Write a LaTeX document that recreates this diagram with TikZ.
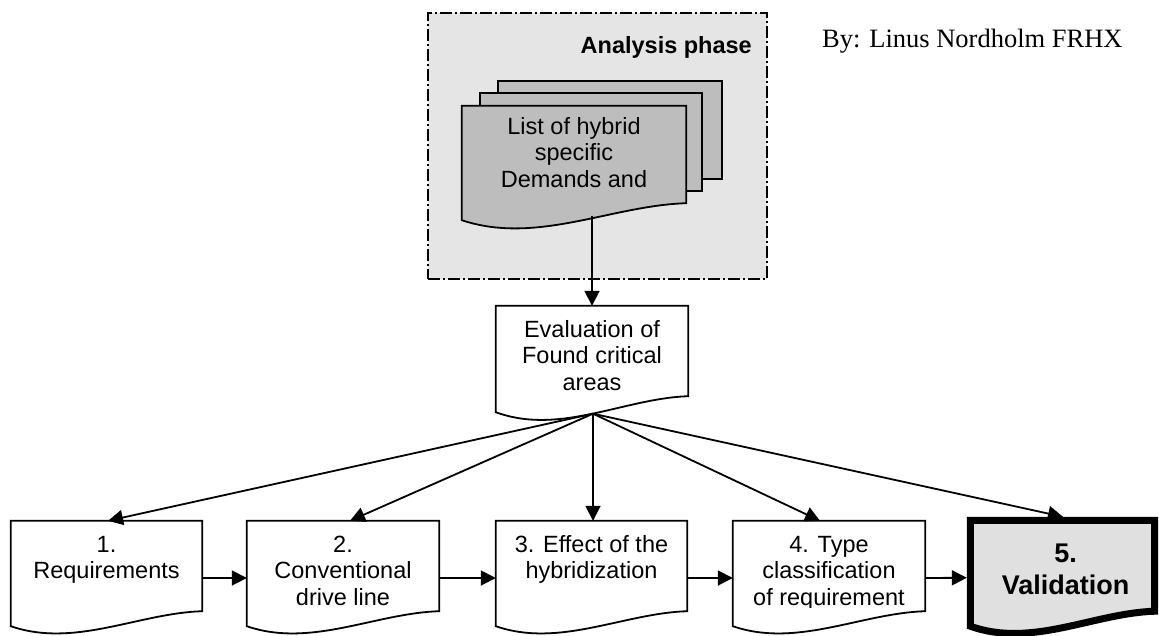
\documentclass[tikz,border=0pt]{standalone}
\usepackage{fontspec}
\setmainfont{Liberation Sans}
\newfontfamily\bylinefont{Liberation Serif}
\usetikzlibrary{arrows.meta,calc}

\definecolor{phasefill}{gray}{0.90}
\definecolor{docfill}{gray}{0.74}
\definecolor{valfill}{gray}{0.88}

% outline of a flowchart "document" shape built on a placeholder node #1;
% the wavy bottom edge ends #2 higher on the right than on the left
\newcommand{\docpath}[2]{%
  (#1.north west) -- (#1.north east) -- ($(#1.south east)+(0,-#2)$)
  .. controls ($(#1.south west)!0.667!(#1.south east)+(0,{-0.867*#2})$)
  and ($(#1.south west)!0.333!(#1.south east)+(0,{1.467*#2})$) .. (#1.south west) -- cycle}

% centred lines whose anchor is the baseline of the first line
\newcommand{\linesof}[1]{\begin{tabular}[t]{@{}c@{}}#1\end{tabular}}

\tikzset{
  area/.style={rectangle, draw=none, inner sep=0pt},
  docline/.style={draw=black, line width=1.8pt, line join=miter},
  label/.style={inner sep=0pt, anchor=base,
    font=\fontsize{23.5}{26.5}\selectfont},
  biglabel/.style={inner sep=0pt, anchor=base,
    font=\fontsize{27}{32}\selectfont\bfseries},
  conn/.style={line width=1.8pt, -{Triangle[length=15pt,width=15pt]}},
}

\begin{document}
\begin{tikzpicture}[x=1pt,y=-1pt]
\useasboundingbox (0,0) rectangle (1159,635);

% analysis phase frame
\node[area, draw=black, fill=phasefill, line width=1.8pt,
      dash pattern=on 12pt off 3pt on 2pt off 3pt,
      minimum width=339pt, minimum height=266pt] (phase) at (597.5,146) {};
\node[inner sep=0pt, anchor=base east, font=\fontsize{23.5}{26.5}\selectfont\bfseries]
  (phasetitle) at (752,53.3) {Analysis phase};

% stacked pages of the list
\node[area, draw=black, fill=docfill, line width=1.8pt,
      minimum width=224pt, minimum height=98pt] (backdoc) at (610,130) {};
\node[area, draw=black, fill=docfill, line width=1.8pt,
      minimum width=222pt, minimum height=98pt] (middoc) at (591,142) {};
\node[area, minimum width=224pt, minimum height=114pt] (fd) at (574,163) {};
\path[docline, fill=docfill] \docpath{fd}{17};
\node[label] (fdtext) at ($(fd.north)+(0,28.5)$)
  {\linesof{List of hybrid\\ specific\\ Demands and}};

% evaluation step
\node[area, minimum width=192pt, minimum height=106pt] (ev) at (592,359) {};
\path[docline, fill=white] \docpath{ev}{16};
\node[label] (evtext) at ($(ev.north)+(0,31.5)$)
  {\linesof{Evaluation of\\ Found critical\\ areas}};
\coordinate (evb) at ($(ev.south)+(1,1.5)$);

% the five steps
\node[area, minimum width=191pt, minimum height=105pt] (b1) at (106.5,573.5) {};
\node[area, minimum width=192pt, minimum height=105pt] (b2) at (343,573.5) {};
\node[area, minimum width=191pt, minimum height=105pt] (b3) at (591.5,573.5) {};
\node[area, minimum width=192pt, minimum height=105pt] (b4) at (829,573.5) {};
\node[area, minimum width=184pt, minimum height=105.5pt] (b5) at (1062.5,573.25) {};

\path[docline, fill=white] \docpath{b1}{15};
\path[docline, fill=white] \docpath{b2}{15};
\path[docline, fill=white] \docpath{b3}{15};
\path[docline, fill=white] \docpath{b4}{15};
\path[docline, fill=valfill, line width=7pt] \docpath{b5}{15};

\node[label] (t1) at ($(b1.north)+(0,31.5)$) {\linesof{1.\\ Requirements}};
\node[label] (t2) at ($(b2.north)+(0,31.5)$) {\linesof{2.\\ Conventional\\ drive line}};
\node[label] (t3) at ($(b3.north)+(0,31.5)$) {\linesof{3. Effect of the\\ hybridization}};
\begin{scope}
  \clip ($(b4.north west)+(2,2)$) rectangle ($(b4.south east)+(-2,-19)$);
  \node[label] (t4) at ($(b4.north)+(0,31.5)$) {\linesof{4. Type\\ classification\\ of requirement}};
\end{scope}
\node[biglabel] (t5) at ($(b5.north)+(3,42)$) {\linesof{5.\\ Validation}};

% author
\node[inner sep=0pt, anchor=base west, font=\bylinefont\fontsize{26.5}{30}\selectfont]
  (byline) at (822,47) {By: Linus Nordholm FRHX};

% connectors
\draw[conn] ($(ev.north |- fd.south)+(0,-4)$) -- (ev.north);
\draw[conn] (evb) -- ($(b1.north)+(1.5,0)$);
\draw[conn] (evb) -- ($(b2.north)+(7,0)$);
\draw[conn] (evb) -- (evb |- b3.north);
\draw[conn] (evb) -- ($(b4.north)+(-9,0)$);
\draw[conn] (evb) -- ($(b5.north)+(0.5,-3.5)$);

\draw[conn] ($(b1.east)+(0,4.5)$) -- ($(b2.west)+(0,4.5)$);
\draw[conn] ($(b2.east)+(0,4.5)$) -- ($(b3.west)+(0,4.5)$);
\draw[conn] ($(b3.east)+(0,4.5)$) -- ($(b4.west)+(0,4.5)$);
\draw[conn] ($(b4.east)+(0,4.5)$) -- ($(b5.west)+(-3.5,4.5)$);
\end{tikzpicture}
\end{document}
